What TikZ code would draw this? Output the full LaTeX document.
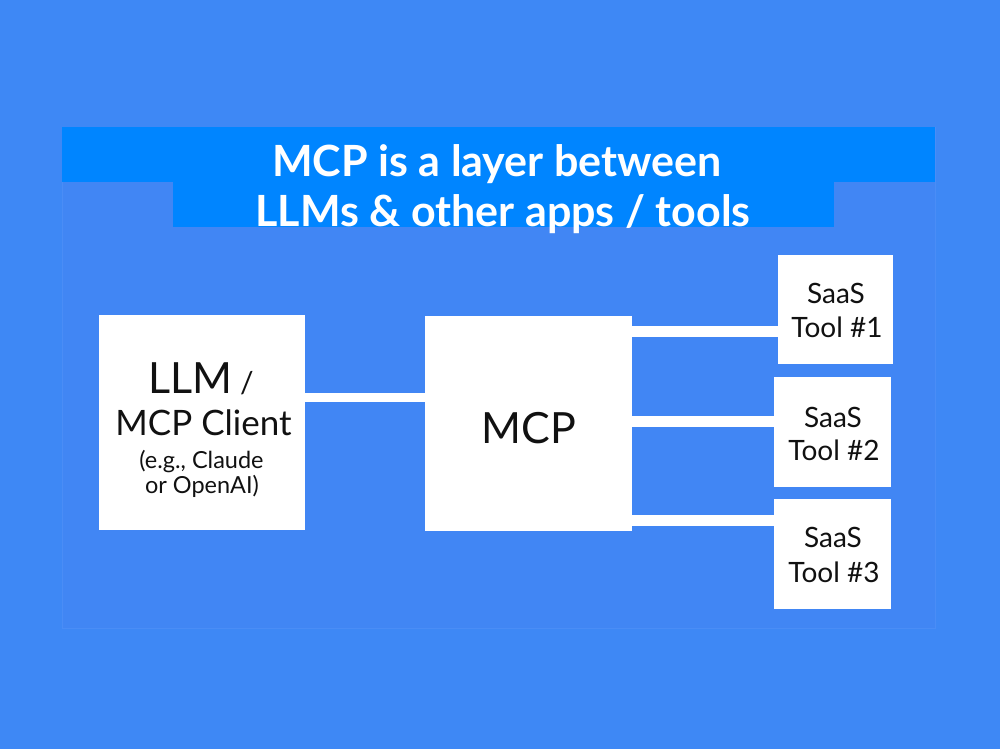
\documentclass[tikz,border=0pt]{standalone}
\usepackage{fontspec}
\setmainfont{Lato}
\definecolor{outerbg}{HTML}{3E88F5}
\definecolor{innerbg}{HTML}{4186F4}
\definecolor{innerline}{HTML}{4A8DF6}
\definecolor{banner}{HTML}{0085FF}
\definecolor{ink}{HTML}{111111}
\begin{document}
\begin{tikzpicture}[x=1pt,y=-1pt,
  box/.style={draw=none,fill=white,inner sep=0pt,minimum width=#1},
  txt/.style={inner sep=0pt,anchor=base,text=ink},
  wire/.style={draw=white,line width=10pt,line cap=butt},
  title/.style={inner sep=0pt,anchor=base,text=white,font=\fontsize{43}{50}\selectfont\bfseries}]
\useasboundingbox (0,0) rectangle (1000,749);
\fill[outerbg] (0,0) rectangle (1000,749);
\filldraw[fill=innerbg,draw=innerline,line width=1pt] (62,127) rectangle (935,628);
\fill[banner] (62,127) rectangle (935,182);
\fill[banner] (173,181) rectangle (834,227);
\node[title] (t1) at (497,176) {MCP is a layer between};
\node[title] (t2) at (503,226) {LLMs \& other apps / tools};
% boxes
\node[box=206pt,minimum height=215pt] (llm) at (202,422.5) {};
\node[box=207pt,minimum height=215pt] (mcp) at (528.5,423.5) {};
\node[box=115pt,minimum height=109pt] (s1) at (835.5,309.5) {};
\node[box=117pt,minimum height=110pt] (s2) at (832.5,432) {};
\node[box=117pt,minimum height=110pt] (s3) at (832.5,554) {};
% connectors
\draw[wire,line width=9pt] (llm.east |- 0,397.5) -- (mcp.west |- 0,397.5);
\draw[wire,line width=11pt] (mcp.east |- 0,331) -- (s1.west |- 0,331);
\draw[wire,line width=11pt] (mcp.east |- 0,421.5) -- (s2.west |- 0,421.5);
\draw[wire,line width=11pt] (mcp.east |- 0,520.5) -- (s3.west |- 0,520.5);
% texts
\node[txt] (l1) at (201,393) {\fontsize{43}{43}\selectfont LLM\hspace{0.18em}\fontsize{30}{30}\selectfont/};
\node[txt] (l2) at (203.5,435) {\fontsize{35}{35}\selectfont MCP Client};
\node[txt] (l3) at (201.5,468) {\fontsize{23.5}{23.5}\selectfont (e.g., Claude};
\node[txt] (l4) at (202,493) {\fontsize{23.5}{23.5}\selectfont or OpenAI)};
\node[txt] (m1) at (529,443) {\fontsize{43}{43}\selectfont MCP};
\node[txt] (a1) at (836,303) {\fontsize{28}{28}\selectfont SaaS};
\node[txt] (a2) at (837,337) {\fontsize{28}{28}\selectfont Tool \#1};
\node[txt] (b1) at (833,427) {\fontsize{28}{28}\selectfont SaaS};
\node[txt] (b2) at (834,460) {\fontsize{28}{28}\selectfont Tool \#2};
\node[txt] (c1) at (833,547) {\fontsize{28}{28}\selectfont SaaS};
\node[txt] (c2) at (834,582) {\fontsize{28}{28}\selectfont Tool \#3};
\end{tikzpicture}
\end{document}
